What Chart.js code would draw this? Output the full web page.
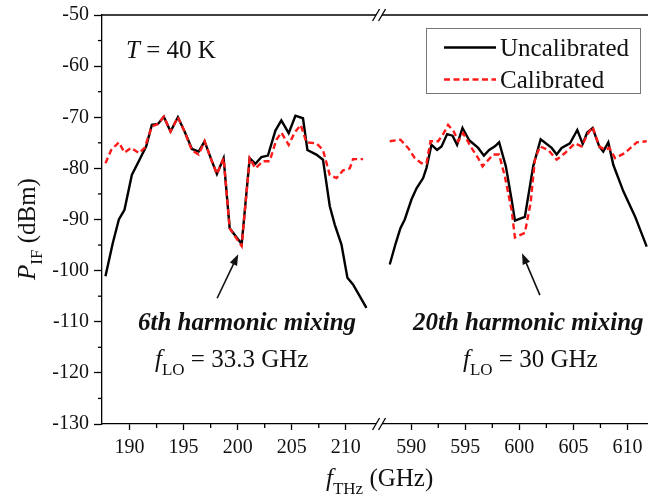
<!DOCTYPE html>
<html>
<head>
<meta charset="utf-8">
<script src="https://cdn.jsdelivr.net/npm/chart.js@4/dist/chart.umd.min.js"></script>
<style>
    html, body { margin: 0; padding: 0; background: #fff; }
</style>
</head>
<body>
<canvas id="cvs" width="648" height="497"></canvas>
<script>
/*==========| data |========== */
const uncalLowFreq  = [187.77, 188.45, 189.01, 189.53, 190.21, 190.92, 191.54, 192.06, 192.62, 193.17, 193.79, 194.47, 195.09, 195.77, 196.39, 196.94, 197.56, 198.08, 198.70, 199.26, 200.37, 201.11, 201.64, 202.19, 202.80, 203.49, 204.04, 204.72, 205.34, 206.04, 206.45, 207.28, 207.89, 208.52, 208.98, 209.60, 210.15, 210.67, 211.91];
const uncalLowPower = [-101.1, -94.6, -90.0, -88.1, -81.3, -78.3, -75.7, -71.5, -71.3, -69.9, -72.8, -70.0, -72.8, -76.2, -76.7, -74.7, -78.3, -81.1, -78.0, -91.7, -94.8, -78.0, -79.1, -77.8, -77.5, -72.6, -70.6, -73.1, -69.7, -70.2, -76.4, -77.3, -78.3, -87.4, -91.0, -94.9, -101.4, -102.7, -107.3];

const calLowFreq  = [187.77, 188.30, 189.01, 189.53, 190.15, 190.86, 191.39, 192.06, 192.62, 193.17, 193.79, 194.47, 195.09, 195.77, 196.39, 196.94, 197.56, 198.08, 198.70, 199.26, 200.37, 201.11, 201.64, 202.34, 202.96, 203.58, 204.04, 204.72, 205.27, 205.83, 206.36, 207.28, 207.89, 208.52, 209.14, 209.75, 210.37, 210.67, 211.60];
const calLowPower = [-79.0, -76.4, -74.9, -76.9, -76.0, -77.0, -76.0, -71.8, -71.3, -69.9, -72.8, -70.0, -72.8, -76.5, -77.3, -74.7, -78.3, -81.1, -78.0, -91.7, -95.2, -78.0, -80.0, -78.6, -78.6, -74.4, -73.0, -75.4, -73.0, -71.5, -74.9, -75.1, -76.4, -81.3, -81.9, -80.4, -80.0, -78.2, -78.2];

const uncalHighFreq  = [588.01, 588.57, 589.00, 589.40, 590.02, 590.49, 591.10, 591.41, 591.87, 592.39, 592.80, 593.32, 593.82, 594.24, 594.74, 595.36, 596.19, 596.72, 597.21, 597.74, 598.13, 598.75, 599.28, 599.59, 600.51, 601.28, 601.97, 602.99, 603.45, 603.91, 604.68, 605.36, 605.86, 606.28, 606.78, 607.39, 607.76, 608.23, 608.69, 609.62, 610.70, 611.78];
const uncalHighPower = [-98.8, -94.6, -91.7, -90.0, -86.1, -83.9, -81.9, -79.9, -75.4, -76.4, -75.7, -73.3, -73.6, -75.4, -72.1, -74.5, -76.0, -77.5, -76.4, -75.7, -74.9, -79.6, -86.1, -90.2, -89.5, -79.6, -74.3, -76.0, -77.3, -76.0, -75.1, -72.5, -75.2, -73.0, -72.1, -75.7, -76.7, -74.9, -79.3, -84.5, -89.4, -95.3];

const calHighFreq  = [588.01, 589.00, 589.71, 590.33, 590.95, 591.41, 591.78, 592.49, 593.01, 593.41, 593.94, 594.34, 594.80, 595.58, 596.19, 596.60, 597.02, 597.58, 598.13, 598.66, 599.28, 599.59, 600.51, 601.04, 601.44, 601.90, 602.67, 603.45, 604.22, 605.14, 605.76, 606.28, 606.78, 607.39, 607.92, 608.32, 608.85, 609.77, 610.86, 611.78];
const calHighPower = [-74.7, -74.4, -76.0, -78.0, -79.0, -79.0, -74.7, -74.7, -73.1, -71.5, -72.8, -74.7, -73.1, -76.0, -78.0, -79.6, -78.6, -77.3, -77.3, -81.6, -88.1, -93.5, -92.6, -86.8, -78.3, -75.7, -76.4, -78.3, -77.0, -75.1, -75.7, -73.4, -71.9, -75.7, -76.4, -76.0, -78.0, -77.0, -74.9, -74.7];

const xTicks      = [190, 195, 200, 205, 210, 590, 595, 600, 605, 610];
const xMinorTicks = [192.5, 197.5, 202.5, 207.5, 592.5, 597.5, 602.5, 607.5];
const yMinorTicks = [-125, -115, -105, -95, -85, -75, -65, -55];

/*==========| broken x axis |========== */
const breakFrom = 212.8;
const breakTo   = 587.3;
const breakGap  = 6;

class BrokenAxis extends Chart.LinearScale {
    unitPx() {
        return (this.width - breakGap) / ((breakFrom - this.min) + (this.max - breakTo));
    }
    getPixelForValue(value) {
        if (value === null || value === undefined || isNaN(value)) return NaN;
        const k = this.unitPx();
        if (value <= breakFrom) return this.left + (value - this.min) * k;
        if (value >= breakTo) return this.left + (breakFrom - this.min) * k + breakGap + (value - breakTo) * k;
        return this.left + (breakFrom - this.min) * k + breakGap / 2;
    }
    getValueForPixel(pixel) {
        const k = this.unitPx();
        const p1 = this.left + (breakFrom - this.min) * k;
        if (pixel <= p1) return this.min + (pixel - this.left) / k;
        return breakTo + (pixel - p1 - breakGap) / k;
    }
}
BrokenAxis.id = 'broken';
BrokenAxis.defaults = Chart.LinearScale.defaults;
Chart.register(BrokenAxis);

const toPoints = (xs, ys) => xs.map((x, i) => ({ x: x, y: ys[i] }));

const serif = '"Liberation Serif", "Times New Roman", serif';
const black = '#000';
const red   = '#ff1a1a';

/*==========| extra drawing: frame, breaks, minor ticks, legend, notes |========== */
function richText(ctx, x, y, parts) {
    let cx = x;
    parts.forEach(p => {
        ctx.font = p[1];
        ctx.fillText(p[0], cx, y + (p[2] || 0));
        cx += ctx.measureText(p[0]).width;
    });
}

function arrow(ctx, x1, y1, x2, y2) {
    const ang = Math.atan2(y2 - y1, x2 - x1);
    const len = 11, half = 4;
    ctx.beginPath();
    ctx.moveTo(x1, y1);
    ctx.lineTo(x2 - Math.cos(ang) * len * 0.8, y2 - Math.sin(ang) * len * 0.8);
    ctx.stroke();
    ctx.beginPath();
    ctx.moveTo(x2, y2);
    ctx.lineTo(x2 - Math.cos(ang) * len - Math.sin(ang) * half, y2 - Math.sin(ang) * len + Math.cos(ang) * half);
    ctx.lineTo(x2 - Math.cos(ang) * len + Math.sin(ang) * half, y2 - Math.sin(ang) * len - Math.cos(ang) * half);
    ctx.closePath();
    ctx.fill();
}

const extras = {
    id: 'extras',
    afterDraw(chart) {
        const ctx = chart.ctx;
        const area = chart.chartArea;
        const xs = chart.scales.x;
        const ys = chart.scales.y;
        const b1 = xs.getPixelForValue(breakFrom);
        const b2 = b1 + breakGap;

        ctx.save();
        ctx.strokeStyle = black;
        ctx.fillStyle = black;
        ctx.lineWidth = 1.3;

        // top frame line
        ctx.beginPath();
        ctx.moveTo(area.left, area.top);
        ctx.lineTo(area.right, area.top);
        ctx.stroke();

        // break gap and slashes, top and bottom
        [area.top, area.bottom].forEach(yy => {
            ctx.fillStyle = '#fff';
            ctx.fillRect(b1, yy - 2, breakGap, 4);
            ctx.fillStyle = black;
            [b1, b2].forEach(cx => {
                ctx.beginPath();
                ctx.moveTo(cx - 3.5, yy + 6);
                ctx.lineTo(cx + 3.5, yy - 6);
                ctx.stroke();
            });
        });

        // minor ticks
        xMinorTicks.forEach(v => {
            const px = xs.getPixelForValue(v);
            ctx.beginPath();
            ctx.moveTo(px, area.bottom);
            ctx.lineTo(px, area.bottom + 4);
            ctx.stroke();
        });
        yMinorTicks.forEach(v => {
            const py = ys.getPixelForValue(v);
            ctx.beginPath();
            ctx.moveTo(area.left, py);
            ctx.lineTo(area.left - 4, py);
            ctx.stroke();
        });

        // legend
        ctx.strokeStyle = '#777';
        ctx.lineWidth = 1;
        ctx.strokeRect(426.5, 28.5, 214, 65);
        const legendRows = [chart.data.datasets[0], chart.data.datasets[2]];
        legendRows.forEach((ds, i) => {
            const ly = 47.5 + i * 32;
            ctx.strokeStyle = ds.borderColor;
            ctx.lineWidth = ds.borderWidth;
            ctx.setLineDash(ds.borderDash || []);
            ctx.beginPath();
            ctx.moveTo(444, ly);
            ctx.lineTo(496, ly);
            ctx.stroke();
            ctx.setLineDash([]);
            ctx.fillStyle = '#111';
            ctx.font = '25px ' + serif;
            ctx.textBaseline = 'alphabetic';
            ctx.fillText(ds.label, 500, ly + 8);
        });

        // notes
        ctx.fillStyle = '#111';
        ctx.textBaseline = 'alphabetic';
        richText(ctx, 126, 58, [['T', 'italic 25px ' + serif], [' = 40 K', '25px ' + serif]]);
        ctx.font = 'italic bold 25px ' + serif;
        ctx.fillText('6th harmonic mixing', 138, 330);
        ctx.fillText('20th harmonic mixing', 413, 330);
        richText(ctx, 155, 367, [['f', 'italic 25px ' + serif], ['LO', '17px ' + serif, 8], [' = 33.3 GHz', '25px ' + serif]]);
        richText(ctx, 463, 367, [['f', 'italic 25px ' + serif], ['LO', '17px ' + serif, 8], [' = 30 GHz', '25px ' + serif]]);

        // arrows toward the dips
        ctx.strokeStyle = '#111';
        ctx.fillStyle = '#111';
        ctx.lineWidth = 1.6;
        arrow(ctx, xs.getPixelForValue(198.1), ys.getPixelForValue(-105.4), xs.getPixelForValue(200.05), ys.getPixelForValue(-96.8));
        arrow(ctx, xs.getPixelForValue(601.9), ys.getPixelForValue(-104.8), xs.getPixelForValue(600.25), ys.getPixelForValue(-96.6));

        // axis titles
        richText(ctx, 326, 486, [['f', 'italic 25px ' + serif], ['THz', '17px ' + serif, 8], [' (GHz)', '25px ' + serif]]);
        ctx.translate(35, 280);
        ctx.rotate(-Math.PI / 2);
        richText(ctx, 0, 0, [['P', 'italic 25px ' + serif], ['IF', '17px ' + serif, 7], [' (dBm)', '25px ' + serif]]);
        ctx.restore();
    }
};

/*==========| chart |========== */
const ctx = document.getElementById('cvs').getContext('2d');
const chart = new Chart(ctx, {
    type: 'line',
    data: {
        datasets: [
            { label: 'Uncalibrated', data: toPoints(uncalLowFreq, uncalLowPower), borderColor: black, borderWidth: 2.4, order: 2 },
            { label: 'Uncalibrated', data: toPoints(uncalHighFreq, uncalHighPower), borderColor: black, borderWidth: 2.4, order: 2 },
            { label: 'Calibrated', data: toPoints(calLowFreq, calLowPower), borderColor: red, borderWidth: 2.4, borderDash: [6, 3.5], order: 1 },
            { label: 'Calibrated', data: toPoints(calHighFreq, calHighPower), borderColor: red, borderWidth: 2.4, borderDash: [6, 3.5], order: 1 }
        ]
    },
    options: {
        responsive: false,
        animation: false,
        devicePixelRatio: 1,
        locale: 'en-US',
        layout: { padding: { top: 15, left: 0, right: 0, bottom: 0 } },
        elements: {
            point: { radius: 0 },
            line: { tension: 0, fill: false, borderCapStyle: 'butt', borderJoinStyle: 'miter' }
        },
        plugins: {
            legend: { display: false },
            tooltip: { enabled: false }
        },
        scales: {
            x: {
                type: 'broken',
                min: 187.45,
                max: 611.9,
                afterBuildTicks: scale => { scale.ticks = xTicks.map(v => ({ value: v })); },
                afterFit: scale => {
                    scale.height = 73;
                    scale.paddingLeft = 0;
                    scale.paddingRight = 0;
                },
                border: { display: true, color: black, width: 1.3 },
                grid: { drawOnChartArea: false, drawTicks: true, tickLength: 6, tickColor: black, tickWidth: 1.3 },
                ticks: {
                    autoSkip: false,
                    maxRotation: 0,
                    padding: 6,
                    color: '#111',
                    font: { family: serif, size: 20 }
                }
            },
            y: {
                min: -130,
                max: -50,
                afterFit: scale => {
                    scale.width = 102;
                    scale.paddingTop = 0;
                    scale.paddingBottom = 0;
                },
                border: { display: true, color: black, width: 1.3 },
                grid: { drawOnChartArea: false, drawTicks: true, tickLength: 8, tickColor: black, tickWidth: 1.3 },
                ticks: {
                    stepSize: 10,
                    padding: 5,
                    color: '#111',
                    font: { family: serif, size: 20 }
                }
            }
        }
    },
    plugins: [extras]
});
</script>
</body>
</html>
